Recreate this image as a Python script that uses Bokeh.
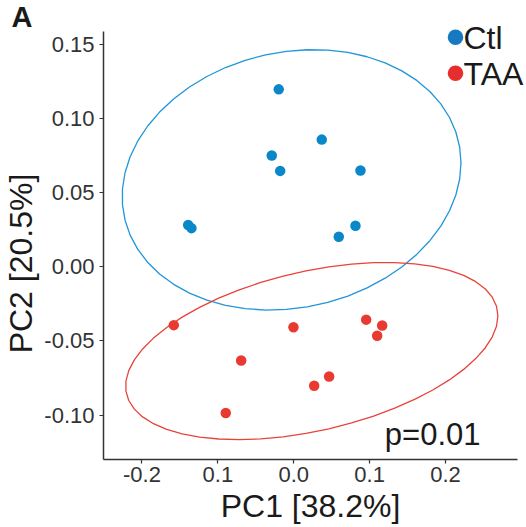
import numpy as np
from bokeh.plotting import figure
from bokeh.models import Range1d, FixedTicker, Label
from bokeh.core.properties import value
from bokeh.embed import file_html
from bokeh.resources import INLINE

# ---- data ----
groups = ["Ctl", "TAA"]
ctl_pc1 = [-0.0198, 0.0369, -0.0290, -0.0179, 0.0879, -0.1391, -0.1348, 0.0813, 0.0593]
ctl_pc2 = [0.1196, 0.0857, 0.0750, 0.0646, 0.0649, 0.0281, 0.0260, 0.0276, 0.0202]
taa_pc1 = [-0.1581, -0.0693, -0.0896, -0.0004, 0.0954, 0.1165, 0.1099, 0.0466, 0.0269]
taa_pc2 = [-0.0394, -0.0633, -0.0987, -0.0408, -0.0357, -0.0397, -0.0466, -0.0740, -0.0803]
x_ticks = [-0.2, -0.1, 0.0, 0.1, 0.2]
x_tick_labels = ["-0.2", "0.1", "0.0", "0.1", "0.2"]
y_ticks = [-0.10, -0.05, 0.0, 0.05, 0.10, 0.15]
y_tick_labels = ["-0.10", "-0.05", "0.00", "0.05", "0.10", "0.15"]
x_title = "PC1 [38.2%]"
y_title = "PC2 [20.5%]"
p_text = "p=0.01"
panel_tag = "A"

PT_COL = {"Ctl": "#0A87C9", "TAA": "#E83A30"}
ELL_COL = {"Ctl": "#2095D8", "TAA": "#E8433A"}
LEG_COL = {"Ctl": "#1679C2", "TAA": "#E62E2E"}
FONT = "Liberation Sans"

# layout of the frame (pixels)
W, H = 526, 527
FL, FR, FT, FB = 103, 517, 31, 459
XR = (-0.2507, 0.2948)
YR = (-0.1300, 0.1586)


def xpx(px):
    return XR[0] + (px - FL) / (FR - FL) * (XR[1] - XR[0])


def ypx(py):
    return YR[1] - (py - FT) / (FB - FT) * (YR[1] - YR[0])


def cov_trob(X, nu=5, maxit=25, tol=0.01):
    n, p = X.shape
    wt = np.ones(n)
    loc = X.mean(axis=0)
    w = np.sqrt(wt)
    Xc = X - loc
    for _ in range(maxit):
        w0 = w
        Xc = X - loc
        _, d, Vt = np.linalg.svd(np.sqrt(w / w.sum())[:, None] * Xc, full_matrices=False)
        wX = Xc @ Vt.T @ np.diag(1.0 / d)
        Q = (wX ** 2).sum(axis=1)
        w = (wt * (nu + p)) / (nu + Q)
        loc = (w[:, None] * X).sum(axis=0) / w.sum()
        if np.all(np.abs(w - w0) < tol):
            break
    sw = np.sqrt(w)[:, None] * Xc
    cov = sw.T @ sw / wt.sum()
    return loc, cov


def stat_ellipse(x, y, level=0.95, segments=51):
    X = np.column_stack([x, y])
    center, shape = cov_trob(X)
    R = np.linalg.cholesky(shape).T
    dfn, dfd = 2, len(x) - 1
    qf = (dfd / 2.0) * ((1 - level) ** (-2.0 / dfd) - 1)
    radius = np.sqrt(dfn * qf)
    ang = np.arange(segments + 1) * 2 * np.pi / segments
    circ = np.column_stack([np.cos(ang), np.sin(ang)])
    e = center + radius * (circ @ R)
    return e[:, 0], e[:, 1]


p = figure(width=W, height=H, output_backend="svg", toolbar_location=None,
           x_range=Range1d(*XR), y_range=Range1d(*YR),
           min_border_left=FL, min_border_right=W - FR, min_border_top=FT,
           min_border_bottom=H - FB)
p.outline_line_color = None
p.xgrid.visible = False
p.ygrid.visible = False
p.background_fill_color = "white"
p.border_fill_color = "white"

data = {"Ctl": (ctl_pc1, ctl_pc2), "TAA": (taa_pc1, taa_pc2)}
for g in groups:
    xs, ys = data[g]
    ex, ey = stat_ellipse(np.array(xs), np.array(ys))
    p.line(ex, ey, line_color=ELL_COL[g], line_width=1.3)
for g in groups:
    xs, ys = data[g]
    p.scatter(x=xs, y=ys, size=10.5, fill_color=PT_COL[g], line_color=None)

# key (drawn above the frame edge, so as overlay glyphs which are not clipped)
leg_rows = [36.7, 72.7]
for g, row in zip(groups, leg_rows):
    p.scatter(x=[xpx(455)], y=[ypx(row)], size=15.5, fill_color=LEG_COL[g],
              line_color=None, level="overlay")
    p.text(x=[xpx(463)], y=[ypx(row + 1)], text=[g], text_font=value(FONT),
           text_font_size="32px", text_color="#1a1a1a", text_baseline="middle",
           text_align="left", level="overlay")

# axes
for ax in (p.xaxis[0], p.yaxis[0]):
    ax.axis_line_color = "#333333"
    ax.axis_line_width = 1.5
    ax.major_tick_line_color = "#333333"
    ax.major_tick_line_width = 1.2
    ax.major_tick_in = 0
    ax.major_tick_out = 4
    ax.minor_tick_line_color = None
    ax.major_label_text_font = FONT
    ax.major_label_text_font_size = "22px"
    ax.major_label_text_color = "#333333"
    ax.axis_label_text_font = FONT
    ax.axis_label_text_font_size = "32px"
    ax.axis_label_text_font_style = "normal"
    ax.axis_label_text_color = "#1a1a1a"

p.xaxis.ticker = FixedTicker(ticks=x_ticks)
p.yaxis.ticker = FixedTicker(ticks=y_ticks)
p.xaxis.major_label_overrides = {t: l for t, l in zip(x_ticks, x_tick_labels)}
p.yaxis.major_label_overrides = {t: l for t, l in zip(y_ticks, y_tick_labels)}
p.xaxis.axis_label = x_title
p.xaxis.major_label_standoff = 3
p.yaxis.major_label_standoff = 5
p.xaxis.axis_label_standoff = 3

# y title, placed like the reference (slightly below the panel centre)
p.text(x=[xpx(20)], y=[ypx(263)], text=[y_title], angle=np.pi / 2,
       text_font=value(FONT), text_font_size="32px", text_color="#1a1a1a",
       text_baseline="middle", text_align="center", level="overlay")

# panel tag
p.text(x=[xpx(11)], y=[ypx(16.5)], text=[panel_tag], text_font=value(FONT),
       text_font_size="29px", text_font_style="bold", text_color="#1a1a1a",
       text_baseline="middle", text_align="left", level="overlay")

p.add_layout(Label(x=0.12, y=-0.1133, text=p_text, text_font=FONT, text_font_size="31px",
                   text_color="#1a1a1a", text_baseline="alphabetic", text_align="left"))

open("out.html", "w").write(file_html(p, INLINE))
